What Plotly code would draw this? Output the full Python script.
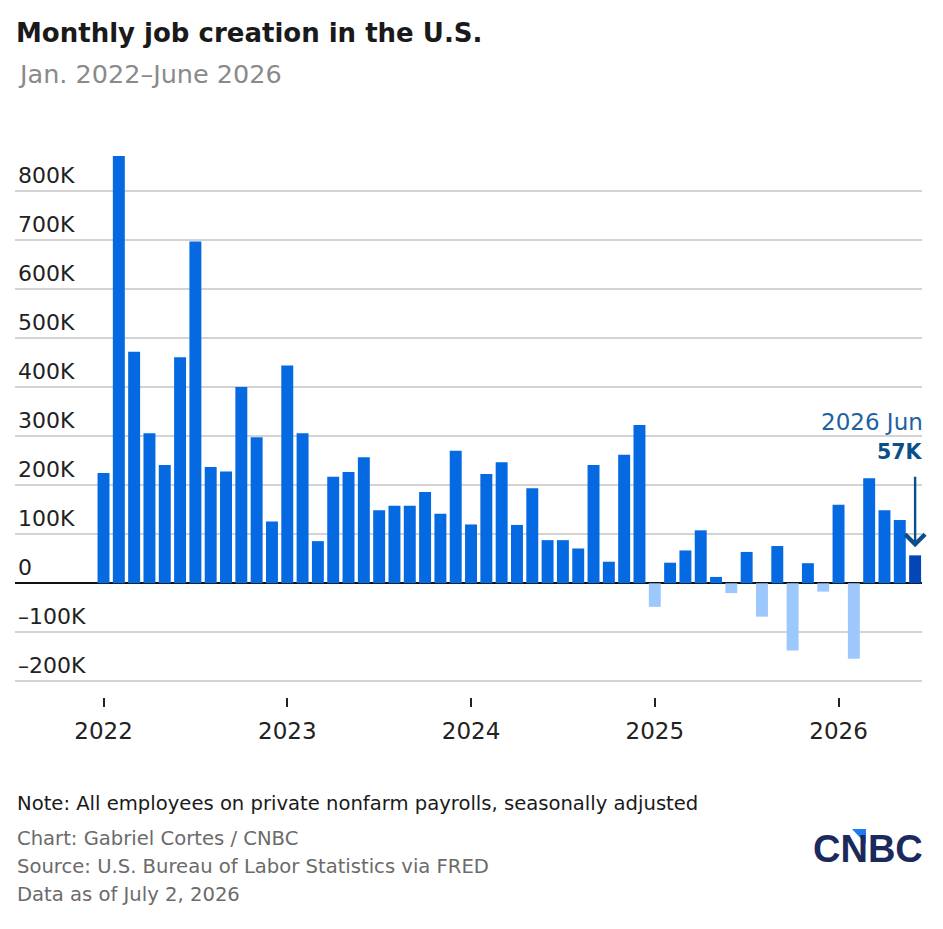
import plotly.graph_objects as go

# ---------------- data (thousands of jobs) ----------------
months = [f"{m} {y}" for y in range(2022, 2027) for m in
          ["Jan", "Feb", "Mar", "Apr", "May", "Jun", "Jul", "Aug", "Sep", "Oct", "Nov", "Dec"]][:54]

jobs_2022 = [225, 871, 472, 306, 241, 461, 697, 237, 228, 400, 298, 126]
jobs_2023 = [444, 306, 86, 217, 227, 257, 149, 158, 158, 186, 142, 270]
jobs_2024 = [120, 223, 247, 119, 194, 88, 88, 71, 241, 44, 262, 323]
jobs_2025 = [-48, 42, 67, 108, 13, -20, 64, -68, 76, -137, 41, -17]
jobs_2026 = [160, -154, 214, 149, 129, 57]

jobs_k = jobs_2022 + jobs_2023 + jobs_2024 + jobs_2025 + jobs_2026
jobs = [v * 1000 for v in jobs_k]

y_ticks = [-200, -100, 0, 100, 200, 300, 400, 500, 600, 700, 800]
y_tick_text = [("\u2013" + f"{-t}K") if t < 0 else ("0" if t == 0 else f"{t}K") for t in y_ticks]
x_tick_vals = ["Jan 2022", "Jan 2023", "Jan 2024", "Jan 2025", "Jan 2026"]
x_tick_text = ["2022", "2023", "2024", "2025", "2026"]

# ---------------- styles ----------------
W, H = 943, 929
L, R = 15, 922
TOP, BOT = 140, 697
FONT = "'DejaVu Sans', 'Open Sans', sans-serif"
POS = "#0569e2"
NEG = "#9dc8fd"
LAST = "#0446b8"
ANN = "#0b4f8a"

colors = [NEG if v < 0 else POS for v in jobs]
colors[-1] = LAST


def px(p):
    return (p - L) / (R - L)


def py(p):
    return (BOT - p) / (BOT - TOP)


fig = go.Figure()
fig.add_trace(go.Bar(
    x=months, y=jobs,
    marker=dict(color=colors, line=dict(width=0)),
    hoverinfo="x+y",
))

annotations = [
    dict(text="Jan. 2022\u2013June 2026", x=px(16), y=py(74), xref="paper", yref="paper",
         xanchor="left", yanchor="middle", showarrow=False,
         font=dict(family=FONT, size=25.5, color="#8a8a8a")),
    dict(text="Note: All employees on private nonfarm payrolls, seasonally adjusted",
         x=px(15), y=py(804), xref="paper", yref="paper", xanchor="left", yanchor="middle",
         showarrow=False, font=dict(family=FONT, size=19.6, color="#1a1a1a")),
    dict(text="Chart: Gabriel Cortes / CNBC", x=px(15), y=py(838), xref="paper", yref="paper",
         xanchor="left", yanchor="middle", showarrow=False,
         font=dict(family=FONT, size=19.6, color="#6b6b6b")),
    dict(text="Source: U.S. Bureau of Labor Statistics via FRED", x=px(15), y=py(866),
         xref="paper", yref="paper", xanchor="left", yanchor="middle", showarrow=False,
         font=dict(family=FONT, size=19.6, color="#6b6b6b")),
    dict(text="Data as of July 2, 2026", x=px(15), y=py(894), xref="paper", yref="paper",
         xanchor="left", yanchor="middle", showarrow=False,
         font=dict(family=FONT, size=19.6, color="#6b6b6b")),
    dict(text="<b>CNBC</b>", x=px(925), y=py(849), xref="paper", yref="paper",
         xanchor="right", yanchor="middle", showarrow=False,
         font=dict(family="'Liberation Sans', Arial, sans-serif", size=38, color="#1b2a5c")),
    # latest value callout
    dict(text="2026 Jun", x=months[-1], y=jobs[-1], xref="x", yref="y",
         xanchor="right", yanchor="middle", xshift=10, yshift=133, showarrow=False,
         font=dict(family=FONT, size=23, color="#1d62a3")),
    dict(text=f"<b>{jobs_k[-1]}K</b>", x=months[-1], y=jobs[-1], xref="x", yref="y",
         xanchor="right", yanchor="middle", xshift=10, yshift=103, showarrow=False,
         font=dict(family=FONT, size=20.5, color=ANN)),
    dict(text="", x=months[-1], y=jobs[-1], xref="x", yref="y",
         ax=0, ay=-80, axref="pixel", ayref="pixel", showarrow=True,
         arrowhead=4, arrowsize=1.6, arrowwidth=2.4, arrowcolor=ANN, standoff=8),
]

fig.update_layout(
    width=W, height=H,
    margin=dict(l=L, r=W - R, t=TOP, b=H - BOT, pad=0),
    paper_bgcolor="white", plot_bgcolor="white",
    bargap=0.22,
    showlegend=False,
    title=dict(text="<b>Monthly job creation in the U.S.</b>", x=16 / W, xanchor="left",
               xref="container", y=1 - 33 / H, yref="container", yanchor="middle",
               font=dict(family=FONT, size=26, color="#1a1a1a")),
    xaxis=dict(
        type="category",
        range=[-5.78, 53.45],
        tickmode="array", tickvals=x_tick_vals, ticktext=x_tick_text,
        ticks="outside", ticklen=9, tickwidth=2, tickcolor="#222222",
        ticklabelstandoff=4,
        showgrid=False, showline=False, zeroline=False,
        tickfont=dict(family=FONT, size=23, color="#222222"),
        fixedrange=True,
    ),
    yaxis=dict(
        range=[-231800, 903800],
        tickmode="array", tickvals=[t * 1000 for t in y_ticks], ticktext=y_tick_text,
        ticklabelposition="inside", ticklabelshift=-16, ticklabelstandoff=0,
        showgrid=True, gridcolor="#d3d3d3", gridwidth=1.5,
        zeroline=True, zerolinecolor="#111111", zerolinewidth=1.5,
        showline=False, ticks="",
        tickfont=dict(family=FONT, size=22, color="#222222"),
        fixedrange=True,
    ),
    annotations=annotations,
    shapes=[
        dict(type="path", xref="paper", yref="paper", layer="above",
             path=f"M {px(852)} {py(829)} L {px(866)} {py(829)} L {px(866)} {py(844)} Z",
             fillcolor="#1e7cf0", line=dict(width=0)),
    ],
)

fig.write_html("out.html", config={"displayModeBar": False},
               post_script="document.body.style.margin='0';")
